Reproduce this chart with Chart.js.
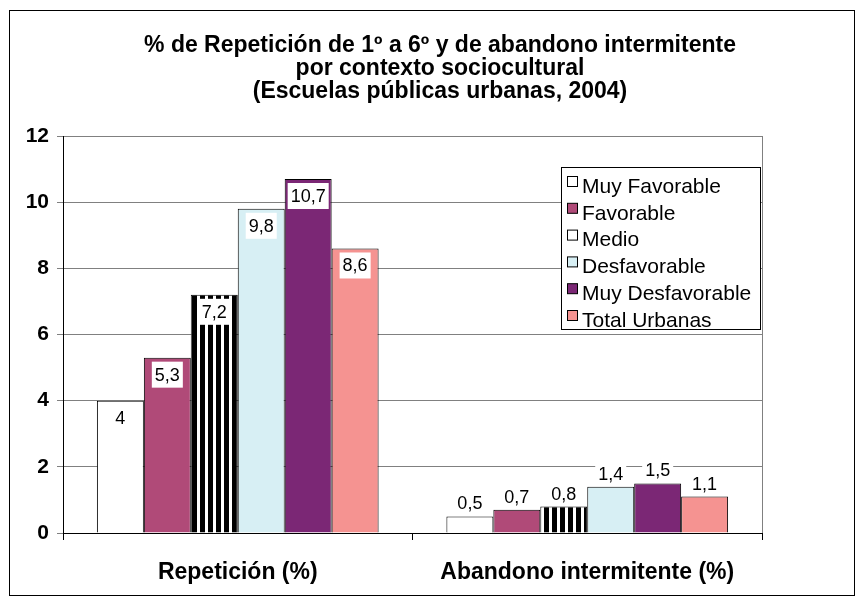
<!DOCTYPE html>
<html>
<head>
<meta charset="utf-8">
<script src="https://cdn.jsdelivr.net/npm/chart.js@4.4.1/dist/chart.umd.min.js"></script>
<style>
  html, body { margin: 0; padding: 0; background: #fff; }
  #wrap { width: 864px; height: 606px; }
</style>
</head>
<body>
<div id="wrap"><canvas id="c" width="864" height="606"></canvas></div>
<script>
const categories = ['Repetición (%)', 'Abandono intermitente (%)'];
const seriesNames = ['Muy Favorable', 'Favorable', 'Medio', 'Desfavorable', 'Muy Desfavorable', 'Total Urbanas'];
const muyFavorable = [4, 0.5];
const favorable = [5.3, 0.7];
const medio = [7.2, 0.8];
const desfavorable = [9.8, 1.4];
const muyDesfavorable = [10.7, 1.5];
const totalUrbanas = [8.6, 1.1];
const yTicks = [0, 2, 4, 6, 8, 10, 12];
const titleLines = [
    '% de Repetición de 1º a 6º y de abandono intermitente',
    'por contexto sociocultural',
    '(Escuelas públicas urbanas, 2004)'
];

const FONT = '"Liberation Sans", Arial, sans-serif';

// vertical stripes for "Medio"
function stripes() {
    const p = document.createElement('canvas');
    p.width = 8; p.height = 8;
    const g = p.getContext('2d');
    g.fillStyle = '#fff';
    g.fillRect(0, 0, 8, 8);
    g.fillStyle = '#000';
    g.fillRect(0, 0, 5, 8);
    return g.createPattern(p, 'repeat');
}

const ctx = document.getElementById('c').getContext('2d');
const fills = ['#ffffff', '#b04a78', stripes(), '#d7eff4', '#7b2775', '#f59391'];
const legendFills = ['#ffffff', '#b04a78', '#ffffff', '#d7eff4', '#7b2775', '#f59391'];
const values = [muyFavorable, favorable, medio, desfavorable, muyDesfavorable, totalUrbanas];

const frame = {
    id: 'frame',
    beforeDraw(chart) {
        const c = chart.ctx;
        c.save();
        c.fillStyle = '#fff';
        c.fillRect(0, 0, chart.width, chart.height);
        c.strokeStyle = '#000';
        c.lineWidth = 1;
        c.strokeRect(9.5, 10.5, 845, 585);
        c.fillStyle = '#000';
        c.font = 'bold 23px ' + FONT;
        c.textAlign = 'center';
        c.textBaseline = 'middle';
        titleLines.forEach((t, i) => c.fillText(t, 440, 46 + i * 23));
        c.restore();
    },
    afterDatasetsDraw(chart) {
        const c = chart.ctx;
        const a = chart.chartArea;
        c.save();
        // right plot border
        c.strokeStyle = '#808080';
        c.beginPath();
        c.moveTo(Math.round(a.right) + 0.5, a.top);
        c.lineTo(Math.round(a.right) + 0.5, a.bottom);
        c.stroke();
        // data labels
        c.font = '18px ' + FONT;
        c.textAlign = 'center';
        c.textBaseline = 'middle';
        chart.data.datasets.forEach((ds, di) => {
            chart.getDatasetMeta(di).data.forEach((bar, i) => {
                const txt = String(ds.data[i]).replace('.', ',');
                const w = c.measureText(txt).width + 6;
                const cy = i === 0 ? bar.y + 17 : bar.y - 13;
                c.fillStyle = '#fff';
                if (i === 0) c.fillRect(bar.x - w / 2, cy - 13, w, 26);
                else c.fillRect(bar.x - w / 2, cy - 11, w, 22);
                c.fillStyle = '#000';
                c.fillText(txt, bar.x, cy + 1);
            });
        });
        // legend
        c.fillStyle = '#fff';
        c.fillRect(561, 167, 200, 162);
        c.strokeStyle = '#000';
        c.strokeRect(561.5, 167.5, 199, 162);
        c.font = '21px ' + FONT;
        c.textAlign = 'left';
        seriesNames.forEach((n, i) => {
            const y = 186 + i * 26.8;
            c.fillStyle = legendFills[i];
            c.fillRect(567.5, y - 9.5, 10, 10);
            c.strokeStyle = '#000';
            c.strokeRect(567.5, y - 9.5, 10, 10);
            c.fillStyle = '#000';
            c.fillText(n, 582, y + 1);
        });
        c.restore();
    }
};

new Chart(ctx, {
    type: 'bar',
    data: {
        labels: categories,
        datasets: seriesNames.map((n, i) => ({
            label: n,
            data: values[i],
            backgroundColor: fills[i],
            borderColor: '#000',
            borderWidth: 1,
            categoryPercentage: 0.806,
            barPercentage: 1
        }))
    },
    options: {
        responsive: false,
        animation: false,
        layout: { padding: { left: 0, top: 136, right: 102, bottom: 0 } },
        plugins: {
            legend: { display: false },
            title: { display: false },
            tooltip: { enabled: false }
        },
        scales: {
            x: {
                afterFit(s) { s.height = 73; },
                grid: { drawOnChartArea: false, drawTicks: true, tickLength: 7, color: '#000', offset: true },
                border: { color: '#000' },
                ticks: {
                    color: '#000',
                    padding: 19,
                    font: { family: FONT, size: 23, weight: 'bold' }
                }
            },
            y: {
                min: 0,
                max: 12,
                afterFit(s) { s.width = 63; },
                afterBuildTicks(s) { s.ticks = yTicks.map(v => ({ value: v })); },
                grid: { color: '#808080', tickLength: 6 },
                border: { color: '#000' },
                ticks: {
                    color: '#000',
                    padding: 8,
                    font: { family: FONT, size: 21, weight: 'bold' }
                }
            }
        }
    },
    plugins: [frame]
});
</script>
</body>
</html>
